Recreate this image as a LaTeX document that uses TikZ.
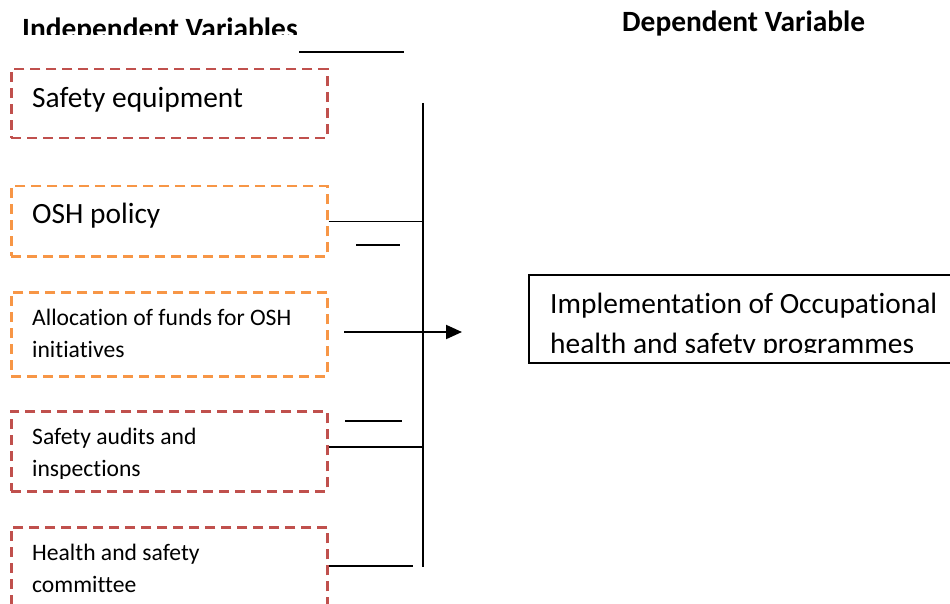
\documentclass[tikz,border=0pt]{standalone}
\usepackage{fontspec}
\setmainfont{Carlito}[Ligatures=NoCommon]
\usetikzlibrary{arrows.meta}
\definecolor{boxred}{HTML}{C0504D}
\definecolor{boxorange}{HTML}{F79646}

\begin{document}
\begin{tikzpicture}[x=1pt,y=-1pt,
	varbox/.style={draw, dash pattern=on 10pt off 6pt, line width=2.5pt, minimum width=316pt, anchor=north west, inner sep=0pt},
	bigtext/.style={font=\fontsize{29.4}{40}\selectfont, anchor=base west, align=left, inner sep=0pt},
	smalltext/.style={font=\fontsize{23.6}{32}\selectfont, anchor=base west, align=left, inner sep=0pt},
	heading/.style={font=\fontsize{29.4}{34}\selectfont\bfseries, anchor=base west, inner sep=0pt},
	wire/.style={line width=1.5pt}]
		\useasboundingbox (0,0) rectangle (950,604);
		\begin{scope}
			\clip (0,0) rectangle (330,35);
			\node[heading] (indep) at (22,39) {Independent Variables};
		\end{scope}
		\node[heading] (dep) at (622,32) {Dependent Variable};
		\node[varbox, boxred, minimum height=69pt] (equip) at (10,68) {};
		\node[varbox, boxorange, minimum height=70pt] (policy) at (10,185) {};
		\node[varbox, boxorange, minimum height=84pt] (funds) at (10,291) {};
		\node[varbox, boxred, minimum height=80pt] (audits) at (10,410) {};
		\node[varbox, boxred, minimum height=100pt] (committee) at (10,526) {};
		\node[bigtext] (equiptext) at (32,108) {Safety equipment};
		\node[bigtext] (policytext) at (32,223) {OSH policy};
		\node[smalltext] (fundstext) at (32,357) {Allocation of funds for OSH\\initiatives};
		\begin{scope}
			\clip (10,410) rectangle (326,478);
			\node[smalltext] (auditstext) at (32,476) {Safety audits and\\inspections};
		\end{scope}
		\node[smalltext] (committeetext) at (32,592) {Health and safety\\committee};
		\node[draw, line width=1.5pt, anchor=north west, minimum width=440pt, minimum height=88pt] (impl) at (528,274) {};
		\begin{scope}
			\clip (528,274) rectangle (950,352);
			\node[bigtext] (impltext) at (550,353) {Implementation of Occupational\\health and safety programmes};
		\end{scope}
		\coordinate (trunktop) at (423,103);
		\coordinate (trunkbot) at (423,567);
		\coordinate (auditsjoin) at (423,447);
		\coordinate (committeejoin) at (413,566);
		\coordinate (arrowtail) at (344,332);
		\coordinate (arrowtip) at (462,332);
		\coordinate (stubA) at (299,52);
		\coordinate (stubB) at (404,52);
		\coordinate (stubC) at (356,245);
		\coordinate (stubD) at (400,245);
		\coordinate (stubE) at (345,421);
		\coordinate (stubF) at (402,421);
		\draw[wire] (trunktop) -- (trunkbot);
		\draw[wire] (policy.east) -- (policy.east -| trunktop);
		\draw[wire] (auditsjoin -| audits.east) -- (auditsjoin);
		\draw[wire] (committeejoin -| committee.east) -- (committeejoin);
		\draw[line width=2pt, -{Triangle[length=16pt,width=14pt]}] (arrowtail) -- (arrowtip);
		\draw[wire] (stubA) -- (stubB);
		\draw[wire] (stubC) -- (stubD);
		\draw[wire] (stubE) -- (stubF);
	% variables framework
	\end{tikzpicture}
\end{document}
